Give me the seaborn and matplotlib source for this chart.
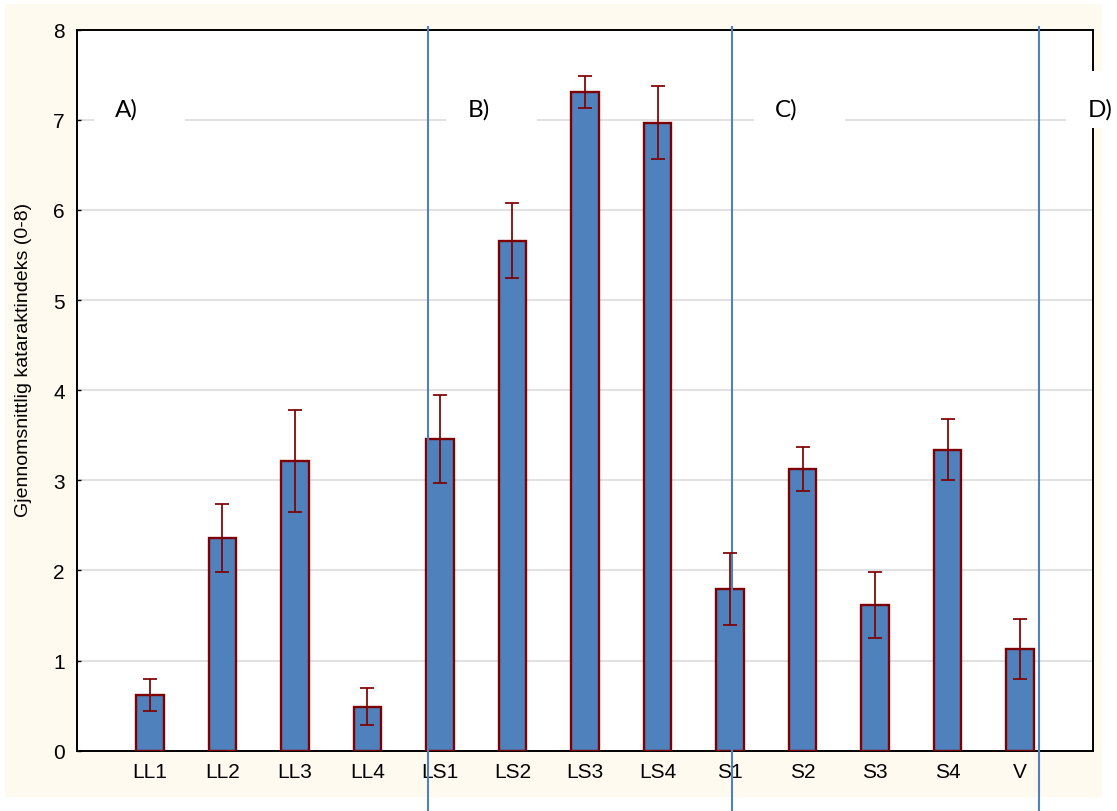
import matplotlib
matplotlib.use("Agg")
import matplotlib.pyplot as plt
import seaborn as sns
import pandas as pd
from matplotlib.patches import Rectangle

# Mean cataract index per group with error (half-length of the error bar)
categories = ["LL1", "LL2", "LL3", "LL4", "LS1", "LS2", "LS3", "LS4",
              "S1", "S2", "S3", "S4", "V"]
means = [0.62, 2.36, 3.21, 0.49, 3.46, 5.66, 7.31, 6.97, 1.79, 3.13, 1.62, 3.34, 1.13]
errors = [0.18, 0.38, 0.565, 0.21, 0.49, 0.42, 0.175, 0.40, 0.40, 0.245, 0.365, 0.34, 0.33]

# Section dividers (in category units) and section labels
divider_positions = [3.84, 8.03, 12.26]
section_labels = ["A)", "B)", "C)", "D)"]
y_label = "Gjennomsnittlig kataraktindeks (0-8)"
y_ticks = [0, 1, 2, 3, 4, 5, 6, 7, 8]

bar_color = "#4F81BD"
edge_color = "#7F0000"
err_color = "#800000"
grid_color = "#D9D9D9"
panel_color = "#FFFAEF"

sns.set_style("ticks")
plt.rcParams["font.family"] = ["Liberation Sans", "DejaVu Sans"]

W, H = 1117, 812
fig = plt.figure(figsize=(W / 100, H / 100), dpi=100, facecolor="white")
fig.patches.append(Rectangle((5 / W, 1 - 798 / H), 1097 / W, 793 / H,
                             transform=fig.transFigure, facecolor=panel_color,
                             edgecolor="none", zorder=-10))

ax = fig.add_axes([77.3 / W, 1 - 751.7 / H, (1092.7 - 77.3) / W, (751.7 - 30.7) / H])
ax.set_zorder(1)
ax.set_facecolor("white")

df = pd.DataFrame({"group": categories, "mean": means})
sns.barplot(data=df, x="group", y="mean", order=categories, color=bar_color,
            saturation=1, width=0.38, edgecolor=edge_color, linewidth=1.7,
            errorbar=None, ax=ax, zorder=3)

ax.errorbar(range(len(categories)), means, yerr=errors, fmt="none",
            ecolor=err_color, elinewidth=1.25, capsize=5.3, capthick=1.25, zorder=5)

ax.set_xlim(-1, 13)
ax.set_ylim(0, 8)
ax.set_yticks(y_ticks)
ax.set_axisbelow(True)
ax.yaxis.grid(True, color=grid_color, lw=1.1)
ax.xaxis.grid(False)
ax.set_xlabel("")
ax.set_ylabel("")

for s in ax.spines.values():
    s.set_color("black")
    s.set_linewidth(1.4)

ax.tick_params(direction="in", length=3, width=1, color="black",
               labelsize=15, labelcolor="black")
ax.tick_params(axis="y", pad=9)
ax.tick_params(axis="x", pad=8)

# Section dividers running past the plotting area
for xpos in divider_positions:
    ax.plot([xpos, xpos], [-0.7, 8.04], color=bar_color, lw=1.5,
            clip_on=False, zorder=4, solid_capstyle="butt")

# Section labels on white boxes
box_left = [0.0164, 0.3631, 0.6664, 0.9737]
text_left = [0.0372, 0.3848, 0.6871, 0.9954]
for bx, tx, lab in zip(box_left, text_left, section_labels):
    ax.add_patch(Rectangle((bx, 0.8637), 0.0896, 0.079, transform=ax.transAxes,
                           facecolor="white", edgecolor="none", clip_on=False,
                           zorder=6))
    ax.text(tx, 0.8803, lab, transform=ax.transAxes, fontsize=17.5,
            family=["Lato", "DejaVu Sans"], va="baseline", ha="left",
            color="black", zorder=7, clip_on=False)

fig.text(24 / W, 1 - 360 / H, y_label, rotation=90, ha="center", va="center",
         fontsize=14, color="black")

fig.savefig("out.png", dpi=100, facecolor="white")
